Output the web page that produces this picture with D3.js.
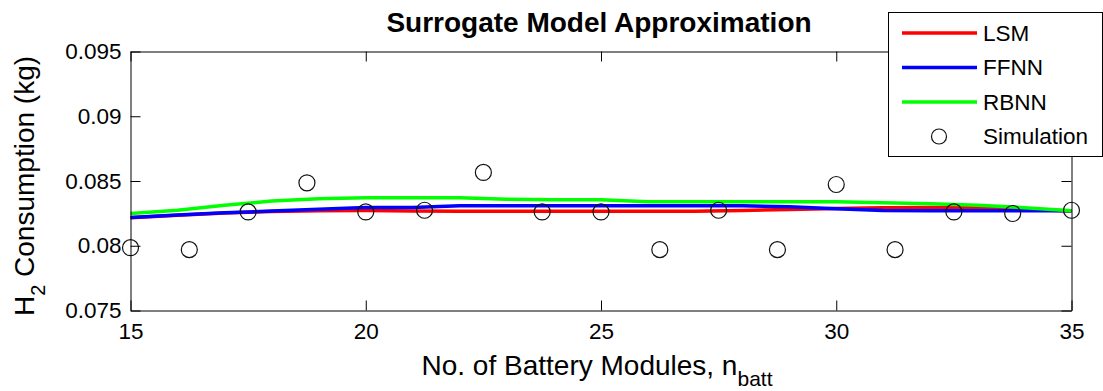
<!DOCTYPE html>
<html>
<head>
<meta charset="utf-8">
<script src="https://cdn.jsdelivr.net/npm/d3@7"></script>
<style>
  html, body { margin: 0; padding: 0; background: #fff; }
  svg { display: block; font-family: "Liberation Sans", Arial, sans-serif; }
</style>
</head>
<body>
<svg id="chart" width="1103" height="391"></svg>
<script>
// Number of battery modules at which the surrogate models are evaluated
const modelN = [15, 16, 17, 18, 19, 20, 21, 22, 23, 24, 25, 26, 27, 28, 29, 30, 31, 32, 33, 34, 35];

// Surrogate model predictions of H2 consumption (kg)
const lsmH2  = [0.08216, 0.08236, 0.08253, 0.08264, 0.08270, 0.08272, 0.08268, 0.08267, 0.08267, 0.08267, 0.08267,
                0.08267, 0.08267, 0.08272, 0.08280, 0.08287, 0.08294, 0.08295, 0.08294, 0.08282, 0.08269];
const ffnnH2 = [0.08218, 0.08237, 0.08254, 0.08268, 0.08282, 0.08295, 0.08295, 0.08309, 0.08309, 0.08309, 0.08309,
                0.08309, 0.08309, 0.08309, 0.08301, 0.08286, 0.08272, 0.08270, 0.08270, 0.08270, 0.08270];
const rbnnH2 = [0.08249, 0.08275, 0.08312, 0.08345, 0.08363, 0.08370, 0.08370, 0.08370, 0.08359, 0.08356, 0.08356,
                0.08339, 0.08339, 0.08339, 0.08339, 0.08339, 0.08332, 0.08325, 0.08313, 0.08294, 0.08270];

// Simulation samples
const simN  = [15, 16.25, 17.5, 18.75, 20, 21.25, 22.5, 23.75, 25, 26.25, 27.5, 28.75, 30, 31.25, 32.5, 33.75, 35];
const simH2 = [0.07985, 0.07970, 0.08261, 0.08486, 0.08261, 0.08274, 0.08566, 0.08261, 0.08261,
               0.07970, 0.08274, 0.07970, 0.08473, 0.07970, 0.08261, 0.08249, 0.08274];

// Axis ticks
const xTicks = [15, 20, 25, 30, 35];
const yTicks = [0.075, 0.08, 0.085, 0.09, 0.095];
const yTickLabels = ["0.075", "0.08", "0.085", "0.09", "0.095"];

const seriesNames  = ["LSM", "FFNN", "RBNN"];
const seriesColors = ["#ff0000", "#0000ff", "#00ff00"];
const seriesValues = [lsmH2, ffnnH2, rbnnH2];

const svg = d3.select("#chart");
svg.append("rect").attr("width", 1103).attr("height", 391).attr("fill", "#fff");

const x = d3.scaleLinear().domain([15, 35]).range([130.5, 1071.5]);
const y = d3.scaleLinear().domain([0.075, 0.095]).range([310.5, 51.5]);
const [x0, x1] = x.range();
const [y0, y1] = y.range();

const tickFont = "22.5px";

// Model curves
const line = d3.line().x(d => x(d[0])).y(d => y(d[1]));
const curves = svg.append("g");
seriesValues.forEach((vals, i) => {
  curves.append("path")
    .datum(modelN.map((n, j) => [n, vals[j]]))
    .attr("d", line)
    .attr("fill", "none")
    .attr("stroke", seriesColors[i])
    .attr("stroke-width", 3.5)
    .attr("stroke-linejoin", "round");
});

// Simulation markers
svg.append("g").selectAll("circle")
  .data(simN.map((n, i) => [n, simH2[i]]))
  .join("circle")
  .attr("cx", d => x(d[0]))
  .attr("cy", d => y(d[1]))
  .attr("r", 8)
  .attr("fill", "none")
  .attr("stroke", "#111")
  .attr("stroke-width", 1.2);

// Axes (inward ticks on all four sides)
const xAxis = d3.axisBottom(x).tickValues(xTicks).tickFormat(d3.format("d"))
  .tickSizeInner(-10).tickSizeOuter(0).tickPadding(13);
const yAxis = d3.axisLeft(y).tickValues(yTicks).tickFormat((d, i) => yTickLabels[i])
  .tickSizeInner(-10).tickSizeOuter(0).tickPadding(9);
const xTop = d3.axisTop(x).tickValues(xTicks).tickFormat("").tickSizeInner(-10).tickSizeOuter(0);
const yRight = d3.axisRight(y).tickValues(yTicks).tickFormat("").tickSizeInner(-10).tickSizeOuter(0);

function styleAxis(g) {
  g.selectAll("path.domain").attr("stroke", "#000").attr("stroke-width", 1);
  g.selectAll(".tick line").attr("stroke", "#000").attr("stroke-width", 1);
  g.selectAll(".tick text").attr("fill", "#000")
    .style("font-size", tickFont).style("font-family", "'Liberation Sans', Arial, sans-serif");
}

svg.append("g").attr("transform", `translate(0,${y0})`).call(xAxis).call(styleAxis);
svg.append("g").attr("transform", `translate(${x0},0)`).call(yAxis).call(styleAxis);
svg.append("g").attr("transform", `translate(0,${y1})`).call(xTop).call(styleAxis);
svg.append("g").attr("transform", `translate(${x1},0)`).call(yRight).call(styleAxis);

// Title
svg.append("text")
  .attr("x", 599).attr("y", 32)
  .attr("text-anchor", "middle")
  .style("font-size", "28px").style("font-weight", "bold")
  .text("Surrogate Model Approximation");

// X axis label with subscript
const xl = svg.append("text")
  .attr("x", 597).attr("y", 375)
  .attr("text-anchor", "middle")
  .style("font-size", "28px");
xl.append("tspan").text("No. of Battery Modules, n");
xl.append("tspan").attr("dy", 11).style("font-size", "21px").text("batt");

// Y axis label with subscript
const yl = svg.append("text")
  .attr("transform", "translate(34,186) rotate(-90)")
  .attr("text-anchor", "middle")
  .style("font-size", "28px");
yl.append("tspan").text("H");
yl.append("tspan").attr("dy", 11).style("font-size", "20px").text("2");
yl.append("tspan").attr("dy", -11).text(" Consumption (kg)");

// Legend
const lg = svg.append("g");
lg.append("rect")
  .attr("x", 888.5).attr("y", 12.5).attr("width", 214).attr("height", 144)
  .attr("fill", "#fff").attr("stroke", "#000").attr("stroke-width", 1);
const rowY = [33, 67.5, 102, 136.5];
seriesNames.forEach((name, i) => {
  lg.append("line")
    .attr("x1", 902).attr("x2", 977).attr("y1", rowY[i]).attr("y2", rowY[i])
    .attr("stroke", seriesColors[i]).attr("stroke-width", 3.5);
  lg.append("text")
    .attr("x", 983).attr("y", rowY[i]).attr("dy", "0.35em")
    .style("font-size", tickFont).text(name);
});
lg.append("circle")
  .attr("cx", 939).attr("cy", rowY[3]).attr("r", 7.5)
  .attr("fill", "none").attr("stroke", "#111").attr("stroke-width", 1.2);
lg.append("text")
  .attr("x", 983).attr("y", rowY[3]).attr("dy", "0.35em")
  .style("font-size", tickFont).text("Simulation");
</script>
</body>
</html>
